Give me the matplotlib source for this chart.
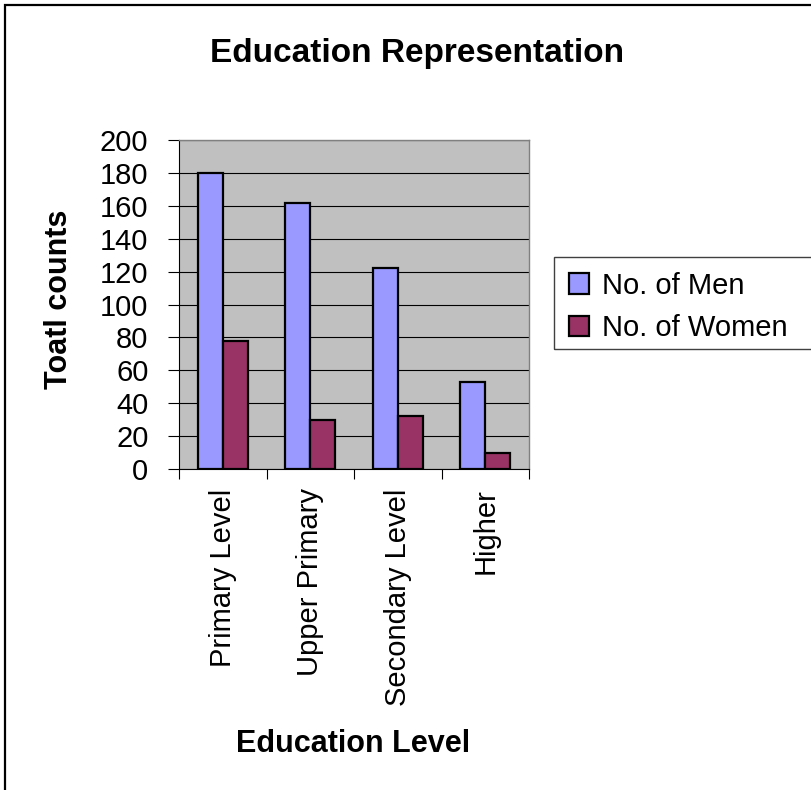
import numpy as np
import matplotlib.pyplot as plt
from matplotlib.patches import Rectangle

plt.rcParams['font.family'] = ['Liberation Sans', 'DejaVu Sans']

# counts per education level
levels = ['Primary Level', 'Upper Primary', 'Secondary Level', 'Higher']
men = [180, 162, 122, 53]
women = [78, 30, 32, 10]
yticks = [0, 20, 40, 60, 80, 100, 120, 140, 160, 180, 200]

W, H = 811, 790
fig = plt.figure(figsize=(W / 100, H / 100), dpi=100)
fig.patch.set_facecolor('white')

# plot area in pixels: x 179..529, y 140..469
ax = fig.add_axes([179 / W, 1 - 469 / H, 350 / W, 329 / H])
ax.set_facecolor('#C0C0C0')

x = np.arange(len(levels))
bw = 1 / 3.5
ax.bar(x - bw / 2, men, bw, color='#9999FF', edgecolor='black', linewidth=1.6,
       label='No. of Men', zorder=3)
ax.bar(x + bw / 2, women, bw, color='#993366', edgecolor='black', linewidth=1.6,
       label='No. of Women', zorder=3)

ax.set_xlim(-0.5, len(levels) - 0.5)
ax.set_ylim(0, 200)
ax.set_yticks(yticks)
ax.yaxis.grid(True, color='black', linewidth=0.8, zorder=1)
ax.set_axisbelow(True)
ax.tick_params(axis='y', direction='out', length=8, width=0.8, pad=14, labelsize=21)

# category boundaries get the tick marks, names sit in between
ax.set_xticks(np.arange(-0.5, len(levels), 1.0))
ax.set_xticklabels([])
ax.tick_params(axis='x', which='major', direction='out', length=7, width=0.8)
ax.set_xticks(x, levels, minor=True)
ax.tick_params(axis='x', which='minor', length=0, pad=14, labelsize=21,
               labelrotation=90)
for lab in ax.get_xticklabels(minor=True):
    lab.set_verticalalignment('top')

for side in ['top', 'right']:
    ax.spines[side].set_color('#808080')
    ax.spines[side].set_linewidth(1)
for side in ['left', 'bottom']:
    ax.spines[side].set_color('black')
    ax.spines[side].set_linewidth(0.8)

fig.text(417 / W, 1 - 62 / H, 'Education Representation', ha='center',
         va='baseline', fontsize=24, fontweight='bold')
fig.text(353 / W, 1 - 752 / H, 'Education Level', ha='center',
         va='baseline', fontsize=22, fontweight='bold')
fig.text(59 / W, 1 - 299 / H, 'Toatl counts', ha='center', va='center',
         rotation=90, fontsize=22, fontweight='bold')

# legend, with its box drawn separately so it runs off the right edge
fig.legend(loc='upper left', bbox_to_anchor=(554 / W, 1 - 257 / H),
           frameon=False, fontsize=21, handlelength=0.7, handleheight=0.7,
           handletextpad=0.45, labelspacing=0.5, borderpad=0.5,
           borderaxespad=0)
fig.add_artist(Rectangle((554 / W, 1 - 349 / H), 300 / W, 92 / H,
                         transform=fig.transFigure, fill=False,
                         edgecolor='#404040', linewidth=1))

# chart border along left and top
fig.add_artist(Rectangle((5 / W, -0.1), 1.2, 1.1 - 5 / H,
                         transform=fig.transFigure, fill=False,
                         edgecolor='black', linewidth=1.6))

fig.savefig('out.png', dpi=100)
